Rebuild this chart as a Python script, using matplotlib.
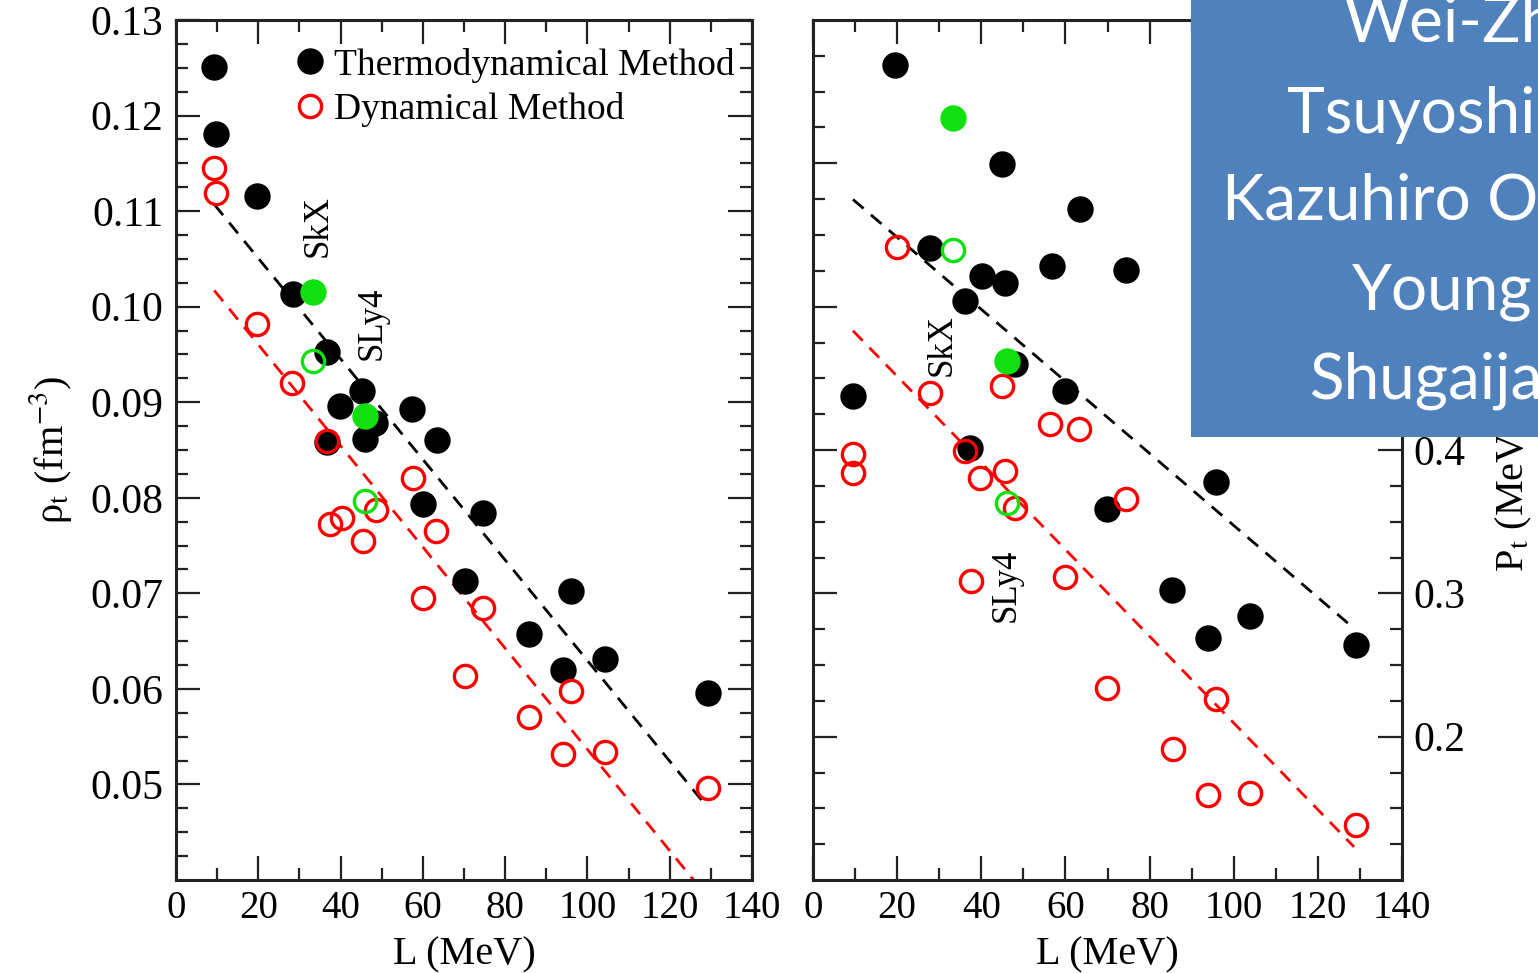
import matplotlib
matplotlib.use('Agg')
import matplotlib.pyplot as plt
from matplotlib.patches import Rectangle

plt.rcParams['font.family'] = ['Liberation Serif', 'DejaVu Serif']
plt.rcParams['mathtext.fontset'] = 'stix'

# ---- left panel: transition density rho_t vs L ----
L_thermo = [9.2, 9.7, 19.7, 28.4, 36.7, 39.9, 45.2, 48.4, 45.9, 36.7, 57.4, 63.4,
            60.0, 74.6, 70.2, 96.0, 85.8, 94.1, 104.3, 129.3]
rho_thermo = [0.1251, 0.1181, 0.1116, 0.1013, 0.0953, 0.0896, 0.0912, 0.0878, 0.0862,
              0.0858, 0.0893, 0.0860, 0.0794, 0.0784, 0.0713, 0.0702, 0.0657, 0.0620,
              0.0631, 0.0596]
L_dyn = [9.2, 9.7, 19.7, 28.2, 36.7, 37.4, 40.3, 45.5, 48.6, 57.6, 63.2, 60.0, 74.6,
         70.2, 96.0, 85.8, 94.1, 104.3, 129.3]
rho_dyn = [0.1145, 0.1119, 0.0982, 0.0920, 0.0859, 0.0773, 0.0779, 0.0755, 0.0787,
           0.0821, 0.0765, 0.0695, 0.0685, 0.0614, 0.0598, 0.0571, 0.0532, 0.0534, 0.0496]
# SkX, SLy4 highlighted
L_green = [33.3, 46.0]
rho_green_thermo = [0.1015, 0.0886]
rho_green_dyn = [0.0943, 0.0797]
fit_L = [9.3, 129.0]
fit_rho_thermo = [0.1107, 0.0477]
fit_rho_dyn = [0.1017, 0.0383]

# ---- right panel: transition pressure P_t vs L ----
L_thermo_r = [19.5, 44.9, 63.5, 56.8, 74.4, 27.8, 40.2, 45.6, 36.1, 48.0, 59.9, 9.5,
              37.3, 95.8, 69.9, 85.3, 93.9, 103.9, 129.1]
P_thermo = [0.6685, 0.5993, 0.5678, 0.5287, 0.5259, 0.5406, 0.5217, 0.5168, 0.5042,
            0.4600, 0.4413, 0.4378, 0.4014, 0.3776, 0.3587, 0.3021, 0.2685, 0.2839, 0.2643]
L_dyn_r = [19.9, 27.8, 44.9, 56.3, 63.2, 9.5, 9.5, 36.1, 39.7, 45.6, 48.0, 74.4, 37.6,
           59.9, 69.9, 85.6, 95.8, 93.9, 103.9, 129.1]
P_dyn = [0.5413, 0.4399, 0.4448, 0.4182, 0.4147, 0.3972, 0.3839, 0.3993, 0.3804, 0.3853,
         0.3594, 0.3657, 0.3084, 0.3112, 0.2343, 0.1916, 0.2266, 0.1594, 0.1608, 0.1385]
L_green_r = [33.3, 46.0]
P_green_thermo = [0.6315, 0.4622]
P_green_dyn = [0.5392, 0.3629]
fit_L_r = [9.5, 128.6]
fit_P_thermo = [0.5748, 0.2755]
fit_P_dyn = [0.4832, 0.1231]

GREEN = '#10e010'
W, H = 1538, 973

fig = plt.figure(figsize=(W / 100, H / 100), dpi=100)
ax1 = fig.add_axes([176 / W, 1 - 880 / H, 576 / W, 860 / H])
ax2 = fig.add_axes([813 / W, 1 - 880 / H, 589 / W, 860 / H])

dash = (0, (5, 3.5))


def style(ax):
    for s in ax.spines.values():
        s.set_linewidth(2.2)
        s.set_color('#222222')
    ax.tick_params(which='both', direction='in', top=True, right=True, width=1.6,
                   color='#222222')
    ax.tick_params(which='major', length=17)
    ax.tick_params(which='minor', length=8.5)
    ax.tick_params(axis='x', labelsize=28, pad=7)
    ax.tick_params(axis='y', labelsize=30, pad=9)
    ax.set_xlim(0, 140)
    ax.set_xticks(range(0, 141, 20))
    ax.set_xticks(range(10, 140, 20), minor=True)
    ax.set_xlabel('L (MeV)', fontsize=29, labelpad=7)


# left panel
ax = ax1
ax.plot(fit_L, fit_rho_thermo, color='black', lw=2, linestyle=dash, zorder=2)
ax.plot(fit_L, fit_rho_dyn, color='red', lw=2, linestyle=dash, zorder=2)
h1, = ax.plot(L_thermo, rho_thermo, 'o', color='black', ms=18, mec='black', ls='none',
              zorder=3, label='Thermodynamical Method')
h2, = ax.plot(L_dyn, rho_dyn, 'o', mfc='none', mec='red', ms=16, mew=2.4, ls='none',
              zorder=4, label='Dynamical Method')
ax.plot(L_green, rho_green_thermo, 'o', color=GREEN, ms=18, ls='none', zorder=5)
ax.plot(L_green, rho_green_dyn, 'o', mfc='none', mec=GREEN, ms=16, mew=2.4, ls='none',
        zorder=5)
ax.text(34.5, 0.1084, 'SkX', rotation=90, fontsize=25, ha='center', va='center')
ax.text(47.6, 0.0983, 'SLy4', rotation=90, fontsize=25, ha='center', va='center')
style(ax)
ax.set_ylim(0.04, 0.13)
ax.set_yticks([0.05, 0.06, 0.07, 0.08, 0.09, 0.10, 0.11, 0.12, 0.13])
ax.set_yticklabels(['0.05', '0.06', '0.07', '0.08', '0.09', '0.10', '0.11', '0.12', '0.13'])
ax.set_yticks([0.04 + 0.0025 * i for i in range(37) if i % 4 != 0], minor=True)
ax.set_ylabel(r'ρ$_\mathrm{t}$ (fm$^{-3}$)', fontsize=29, labelpad=12)
ax.legend(handles=[h1, h2], loc='upper left', bbox_to_anchor=(0.2, 0.968),
          frameon=False, fontsize=27, handlelength=1.0, handletextpad=0.15,
          borderpad=0, borderaxespad=0, labelspacing=0.25)

# right panel
ax = ax2
ax.plot(fit_L_r, fit_P_thermo, color='black', lw=2, linestyle=dash, zorder=2)
ax.plot(fit_L_r, fit_P_dyn, color='red', lw=2, linestyle=dash, zorder=2)
ax.plot(L_thermo_r, P_thermo, 'o', color='black', ms=18, ls='none', zorder=3)
ax.plot(L_dyn_r, P_dyn, 'o', mfc='none', mec='red', ms=16, mew=2.4, ls='none', zorder=4)
ax.plot(L_green_r, P_green_thermo, 'o', color=GREEN, ms=18, ls='none', zorder=5)
ax.plot(L_green_r, P_green_dyn, 'o', mfc='none', mec=GREEN, ms=16, mew=2.4, ls='none',
        zorder=5)
ax.text(30.8, 0.4734, 'SkX', rotation=90, fontsize=25, ha='center', va='center')
ax.text(45.9, 0.3056, 'SLy4', rotation=90, fontsize=25, ha='center', va='center')
style(ax)
ax.set_ylim(0.1, 0.7)
ax.set_yticks([0.2, 0.3, 0.4, 0.5, 0.6])
ax.set_yticks([0.1 + 0.025 * i for i in range(25) if i % 4 != 0], minor=True)
ax.tick_params(axis='y', which='both', labelleft=False, labelright=True, pad=8)
ax.yaxis.set_label_position('right')
ax.set_ylabel(r'P$_\mathrm{t}$ (MeV fm$^{-3}$)', fontsize=29, labelpad=16)

# slide overlay box
fig.add_artist(Rectangle((1191 / W, 1 - 437 / H), (W - 1191) / W, 437 / H,
                         transform=fig.transFigure, facecolor='#4f81bd',
                         edgecolor='none', zorder=10))
box_lines = ['Wei-Zh', 'Tsuyoshi', 'Kazuhiro O', 'Young', 'Shugaija']
box_x = [1343, 1287, 1222, 1352, 1310]
box_y = [42, 133, 220, 310, 398]
for s, x, y in zip(box_lines, box_x, box_y):
    fig.text(x / W, 1 - y / H, s, color='white', fontsize=46, family='Lato',
             ha='left', va='baseline', zorder=11)

fig.savefig('out.png', dpi=100)
